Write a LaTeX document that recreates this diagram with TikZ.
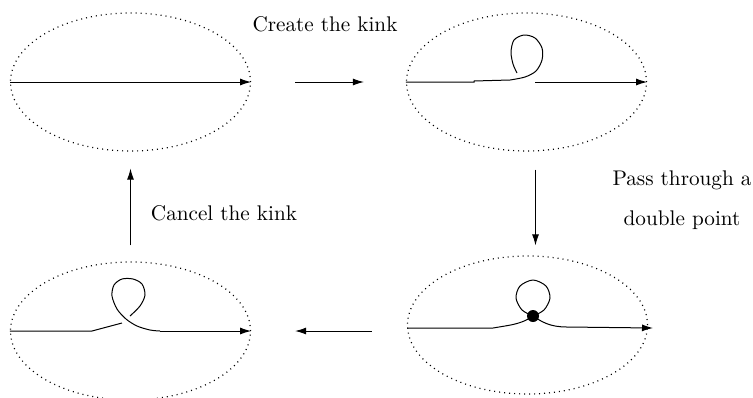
\documentclass[tikz,border=0pt]{standalone}
\usetikzlibrary{shapes.geometric,arrows.meta}

\begin{document}
\begin{tikzpicture}[
      x=0.5pt, y=-0.5pt,
      oval/.style={draw=black, ellipse, dash pattern=on 0.5pt off 2pt, line width=0.6pt,
                   minimum width=120pt, minimum height=69pt, inner sep=0pt},
      strand/.style={line width=0.5pt, draw=black},
      move/.style={line width=0.5pt, draw=black, -{Latex[length=5.5pt,width=3.5pt]}},
      note/.style={font=\fontsize{10.6}{12}\selectfont, anchor=base},
      crossing/.style={circle, fill=black, inner sep=0pt, minimum size=6pt},
    ]
    \useasboundingbox (0,0) rectangle (753,397);

    % -------------------------------------------------------
    %  the four pictures
    % -------------------------------------------------------
    \node[oval] (straight) at (130.5, 82) {};
    \node[oval] (kink)     at (526.5, 82) {};
    \node[oval] (cancel)   at (130.5, 331) {};
    \node[oval] (double)   at (527.5, 325) {};

    % -------------------------------------------------------
    %  (1) straight strand
    % -------------------------------------------------------
    \draw[move] (straight.west) -- (straight.east);

    % -------------------------------------------------------
    %  (2) strand with a kink
    % -------------------------------------------------------
    \draw[strand] (kink.west) -- (474, 82) -- (474, 81) -- (510, 80)
      plot[smooth] coordinates {(510, 80) (525, 77) (536, 71) (542, 60) (542, 48)
        (535, 38) (524, 35) (514, 40) (511, 52) (513, 64) (517, 73)};
    \draw[move] (535, 82) -- (kink.east);

    % -------------------------------------------------------
    %  (3) double point
    % -------------------------------------------------------
    \node[crossing] (dp) at (533, 316) {};
    \draw[strand] (407, 328) -- (493, 328) -- (505, 326)
      .. controls (518, 324) and (526, 321) .. (dp.center);
    \draw[strand] plot[smooth] coordinates {(533, 316) (522, 310) (516, 298)
        (520, 286) (533, 280) (546, 286) (550, 298) (544, 310) (533, 316)};
    \draw[move] (dp.center) .. controls (542, 322) and (550, 327) .. (567, 327)
      -- (653, 328);

    % -------------------------------------------------------
    %  (4) kink the other way round
    % -------------------------------------------------------
    \draw[strand] (cancel.west) -- (92, 331) -- (122, 323);
    \draw[strand] plot[smooth] coordinates {(130, 316) (140, 306) (145, 295)
        (142, 284) (133, 279) (122, 279) (114, 285) (112, 296) (117, 309)
        (126, 319) (137, 326) (150, 330) (160, 331)};
    \draw[move] (160, 331) -- (cancel.east);

    % -------------------------------------------------------
    %  moves between the pictures
    % -------------------------------------------------------
    \draw[move, shorten <=22pt, shorten >=21pt] (straight.east) -- (kink.west);
    \draw[move, shorten <=9pt, shorten >=5pt]
      ([xshift=4.5pt]kink.south) -- ([xshift=4pt]double.north);
    \draw[move, shorten <=17.5pt, shorten >=22pt] (double.west |- cancel.east) -- (cancel.east);
    \draw[move, shorten <=8pt, shorten >=8.5pt] (cancel.north) -- (straight.south);

    \node[note] (create) at (325, 31) {Create the kink};
    \node[note] (pass)   at (682, 185) {Pass through a};
    \node[note] (dpoint) at (682, 225) {double point};
    \node[note] (undo)   at (224, 220) {Cancel the kink};

  \end{tikzpicture}
\end{document}
